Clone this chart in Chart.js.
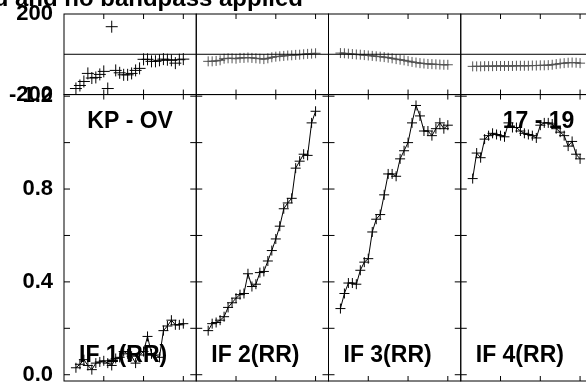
<!DOCTYPE html>
<html>
<head>
<meta charset="utf-8">
<script src="https://cdn.jsdelivr.net/npm/chart.js@4.4.0/dist/chart.umd.min.js"></script>
<style>
  html, body { margin: 0; padding: 0; background: #fff; overflow: hidden; }
  canvas { display: block; }
</style>
</head>
<body>
<canvas id="c" width="600" height="388" style="width:600px;height:388px"></canvas>
<script>
// ---- data ----
const channels = [3,4,5,6,7,8,9,10,11,12,13,14,15,16,17,18,19,20,21,22,23,24,25,26,27,28,29,30];

const ampIF1 = [0.03,0.045,0.065,0.04,0.022,0.05,0.055,0.06,0.05,0.04,0.07,0.075,0.10,0.09,0.08,0.05,0.085,0.10,0.165,0.09,0.085,0.075,0.19,0.21,0.235,0.215,0.215,0.22];
const ampIF2 = [0.19,0.22,0.225,0.235,0.25,0.29,0.31,0.33,0.345,0.35,0.435,0.38,0.39,0.44,0.445,0.49,0.535,0.585,0.64,0.715,0.74,0.76,0.89,0.92,0.95,0.945,1.085,1.135];
const ampIF3 = [0.285,0.35,0.395,0.395,0.39,0.45,0.485,0.50,0.615,0.67,0.69,0.775,0.865,0.865,0.855,0.93,0.965,1.00,1.085,1.16,1.115,1.05,1.05,1.03,1.06,1.085,1.06,1.075];
const ampIF4 = [0.845,0.955,0.935,1.015,1.03,1.04,1.035,1.03,1.025,1.085,1.065,1.065,1.05,1.04,1.035,1.03,1.02,1.075,1.085,1.085,1.08,1.06,1.045,1.03,0.985,1.005,0.95,0.93];

const phaseIF1 = [-170,-155,-135,-95,-118,-115,-100,-85,-170,137,-80,-92,-102,-102,-95,-80,-70,-25,-25,-35,-35,-30,-24,-27,-30,-44,-27,-24];
const phaseIF2 = [-35,-35,-33,-30,-22,-20,-20,-22,-18,-18,-16,-18,-20,-22,-24,-20,-15,-12,-10,-8,-6,-5,-3,-2,0,2,3,5];
const phaseIF3 = [6,5,3,1,-1,-2,-4,-6,-8,-10,-12,-14,-17,-20,-24,-27,-30,-34,-38,-41,-44,-46,-48,-49,-50,-51,-52,-52];
const phaseIF4 = [-60,-60,-60,-59,-59,-59,-58,-58,-58,-58,-58,-57,-57,-57,-57,-56,-56,-55,-55,-54,-52,-49,-46,-44,-42,-41,-42,-44];

const ifLabels = ['IF 1(RR)', 'IF 2(RR)', 'IF 3(RR)', 'IF 4(RR)'];
const baselineLabel = 'KP - OV';
const timeLabel = '17 - 19';
const titleText = 'd and no bandpass applied';

const ampTickLabels = [0, 0.4, 0.8, 1.2];
const ampMinorTicks = [0, 0.2, 0.4, 0.6, 0.8, 1.0, 1.2];
const phaseTickLabels = [-200, 200];
const chanTicks = [10, 20, 30];

const ampSets = [ampIF1, ampIF2, ampIF3, ampIF4];
const phaseSets = [phaseIF1, phaseIF2, phaseIF3, phaseIF4];

// ---- chart ----
const FONT = '"Liberation Sans", Arial, Helvetica, sans-serif';
const datasets = [];
for (let i = 0; i < 4; i++) {
  datasets.push({
    label: 'amp' + (i + 1),
    xAxisID: 'x' + i, yAxisID: 'yA',
    data: channels.map((c, j) => ({ x: c, y: ampSets[i][j] })),
    showLine: true, borderColor: '#000', borderWidth: 1, tension: 0,
    pointStyle: 'cross', pointRadius: 5, pointBorderWidth: 1,
    pointBorderColor: '#000', pointBackgroundColor: '#000'
  });
  datasets.push({
    label: 'phase' + (i + 1),
    xAxisID: 'x' + i, yAxisID: 'yP',
    data: channels.map((c, j) => ({ x: c, y: phaseSets[i][j] })),
    showLine: i !== 0, borderColor: '#000', borderWidth: 1, tension: 0,
    pointStyle: 'cross', pointRadius: i === 0 ? 6 : 5, pointBorderWidth: 1,
    pointBorderColor: i === 0 ? '#000' : '#555', pointBackgroundColor: '#000'
  });
}

const noPad = s => { s.paddingTop = 0; s.paddingBottom = 0; s.width = 64; };

const scales = {};
for (let i = 0; i < 4; i++) {
  scales['x' + i] = {
    type: 'linear', position: 'bottom', stack: 'xs', stackWeight: 1,
    min: 0, max: 33.25,
    ticks: { display: false }, grid: { display: false, drawTicks: false }, border: { display: false },
    afterFit: s => { s.height = 5; s.paddingLeft = 0; s.paddingRight = 0; }
  };
}
scales.yP = {
  type: 'linear', position: 'left', stack: 'ys', stackWeight: 81, weight: 2,
  min: -200, max: 200,
  afterBuildTicks: s => { s.ticks = phaseTickLabels.map(v => ({ value: v })); },
  ticks: { padding: 11, color: '#000', font: { family: FONT, size: 22, weight: 'bold' },
           callback: v => String(v), autoSkip: false },
  grid: { display: false, drawTicks: false }, border: { display: false },
  afterFit: noPad
};
scales.yA = {
  type: 'linear', position: 'left', stack: 'ys', stackWeight: 288, weight: 1,
  min: -0.027, max: 1.207,
  afterBuildTicks: s => { s.ticks = ampTickLabels.map(v => ({ value: v })); },
  ticks: { padding: 11, color: '#000', font: { family: FONT, size: 22, weight: 'bold' },
           callback: v => Number(v).toFixed(1), autoSkip: false },
  grid: { display: false, drawTicks: false }, border: { display: false },
  afterFit: noPad
};

const framePlugin = {
  id: 'frames',
  afterDatasetsDraw(chart) {
    const ctx = chart.ctx;
    const yP = chart.scales.yP, yA = chart.scales.yA;
    ctx.save();
    ctx.strokeStyle = '#000';
    ctx.lineWidth = 1;
    const line = (x1, y1, x2, y2) => { ctx.beginPath(); ctx.moveTo(x1, y1); ctx.lineTo(x2, y2); ctx.stroke(); };
    const y0 = yP.getPixelForValue(0);
    for (let i = 0; i < 4; i++) {
      const xs = chart.scales['x' + i];
      const L = xs.left, R = xs.right;
      ctx.strokeRect(L, yP.top, R - L, yP.bottom - yP.top);
      ctx.strokeRect(L, yA.top, R - L, yA.bottom - yA.top);
      line(L, y0, R, y0);
      for (const t of chanTicks) {
        const px = xs.getPixelForValue(t);
        line(px, yP.top, px, yP.top + 5);
        line(px, yP.bottom, px, yP.bottom - 5);
        line(px, yA.top, px, yA.top + 5);
        line(px, yA.bottom, px, yA.bottom - 5);
      }
      for (const v of ampMinorTicks) {
        const py = yA.getPixelForValue(v);
        line(L, py, L + 6, py);
        line(R - 6, py, R, py);
      }
    }
    ctx.fillStyle = '#000';
    ctx.font = 'bold 23px ' + FONT;
    ctx.textBaseline = 'alphabetic';
    const x0 = chart.scales.x0, x3 = chart.scales.x3;
    ctx.textAlign = 'center';
    ctx.fillText(baselineLabel, (x0.left + x0.right) / 2, 128);
    ctx.textAlign = 'left';
    ctx.fillText(timeLabel, x3.left + 42, 128);
    for (let i = 0; i < 4; i++) {
      const xs = chart.scales['x' + i];
      ctx.fillText(ifLabels[i], xs.left + 15, 362);
    }
    ctx.font = 'bold 24px ' + FONT;
    ctx.textAlign = 'right';
    ctx.fillText(titleText, 303, 6);
    ctx.restore();
  }
};

new Chart(document.getElementById('c'), {
  type: 'scatter',
  data: { datasets },
  options: {
    responsive: false, animation: false, devicePixelRatio: 1,
    layout: { padding: { top: 14, right: 4, left: 0, bottom: 0 } },
    plugins: { legend: { display: false }, tooltip: { enabled: false }, title: { display: false } },
    scales
  },
  plugins: [framePlugin]
});
</script>
</body>
</html>
